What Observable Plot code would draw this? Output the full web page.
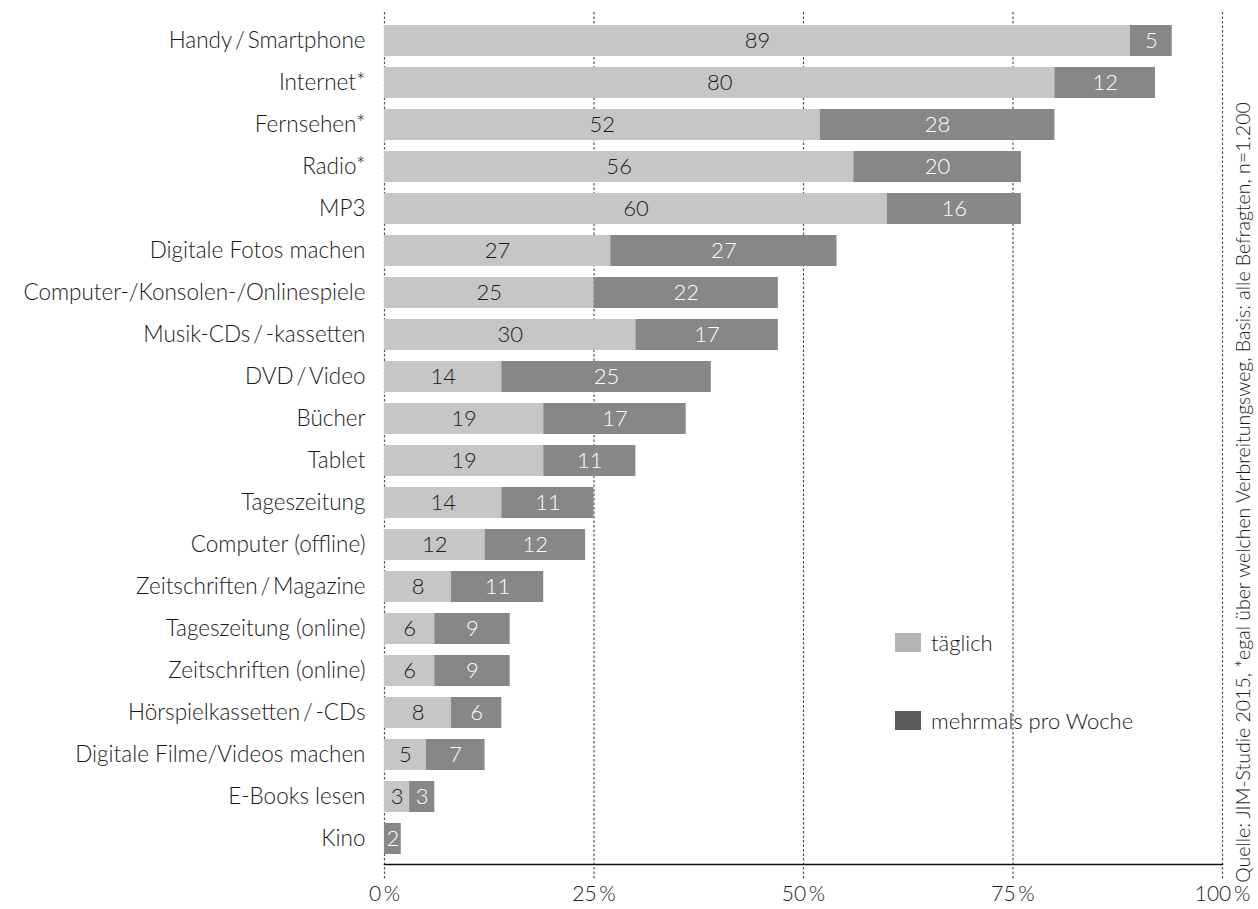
<!DOCTYPE html>
<html><head><meta charset="utf-8">
<script src="https://cdn.jsdelivr.net/npm/d3@7"></script>
<script src="https://cdn.jsdelivr.net/npm/@observablehq/plot@0.6"></script>
<style>
body{margin:0;background:#fff;}
#wrap{position:relative;width:1258px;height:909px;font-family:Lato,"Open Sans",sans-serif;color:#1a1a1a;font-weight:300;}
.leg{position:absolute;left:895px;height:26px;display:flex;align-items:center;font-size:22px;white-space:nowrap;}
.sw{width:26px;height:19px;margin-right:10px;}
</style></head><body><div id="wrap"></div>
<script>
const categories = ["Handy\u2009/\u2009Smartphone","Internet*","Fernsehen*","Radio*","MP3","Digitale Fotos machen","Computer-/Konsolen-/Onlinespiele","Musik-CDs\u2009/\u2009-kassetten","DVD\u2009/\u2009Video","Bücher","Tablet","Tageszeitung","Computer (offline)","Zeitschriften\u2009/\u2009Magazine","Tageszeitung (online)","Zeitschriften (online)","Hörspielkassetten\u2009/\u2009-CDs","Digitale Filme/Videos machen","E-Books lesen","Kino"];
const daily  = [89,80,52,56,60,27,25,30,14,19,19,14,12,8,6,6,8,5,3,0];
const weekly = [5,12,28,20,16,27,22,17,25,17,11,11,12,11,9,9,6,7,3,2];
const seriesNames = ["täglich","mehrmals pro Woche"];
const xTicks = [0,25,50,75,100];
const sourceText = "Quelle: JIM-Studie 2015, *egal über welchen Verbreitungsweg, Basis: alle Befragten, n=1.200";

const rows = categories.map((c,i)=>({cat:c, d:daily[i], w:weekly[i]}));
const long = rows.flatMap(r=>[{cat:r.cat,type:seriesNames[0],value:r.d},{cat:r.cat,type:seriesNames[1],value:r.w}]);
const FONT = 'Lato, "Open Sans", sans-serif';

const chart = Plot.plot({
  width:1258, height:909,
  marginLeft:384, marginRight:36, marginTop:12, marginBottom:45,
  style:{fontFamily:FONT, fontSize:"22px", fontWeight:300, color:"#1a1a1a", background:"white"},
  x:{domain:[0,100]},
  y:{domain:categories, range:[17,861], paddingInner:0.265, paddingOuter:0.1325},
  color:{domain:seriesNames, range:["#c6c6c6","#878787"]},
  marks:[
    Plot.ruleX(xTicks,{stroke:"#555", strokeDasharray:"2.5,2", strokeWidth:1.2, insetBottom:-16}),
    Plot.barX(long,{x:"value", y:"cat", fill:"type"}),
    Plot.text(rows.filter(r=>r.d>0),{x:r=>r.d/2, y:"cat", text:"d", fill:"#1a1a1a", fontSize:22}),
    Plot.text(rows.filter(r=>r.w>0),{x:r=>r.d+r.w/2, y:"cat", text:"w", fill:"white", fontSize:22}),
    Plot.frame({anchor:"bottom", stroke:"#111", strokeWidth:1.5}),
    Plot.axisX({ticks:xTicks, tickSize:0, tickPadding:22, tickFormat:d=>d+"\u2009%", fontSize:21, label:null}),
    Plot.axisY({tickSize:0, tickPadding:19, fontSize:22.5, label:null}),
    Plot.text([sourceText],{frameAnchor:"right", textAnchor:"middle", dx:21, dy:54, rotate:-90, fontSize:19.5, fill:"#1a1a1a"})
  ]
});
const wrap = document.getElementById("wrap");
wrap.appendChild(chart);
const legColors = ["#b3b3b3","#5a5a5a"];
const legTops = [629,707];
seriesNames.forEach((n,i)=>{
  const el = document.createElement("div");
  el.className = "leg";
  el.style.top = legTops[i]+"px";
  el.innerHTML = `<div class="sw" style="background:${legColors[i]}"></div><span>${n}</span>`;
  wrap.appendChild(el);
});
</script></body></html>
